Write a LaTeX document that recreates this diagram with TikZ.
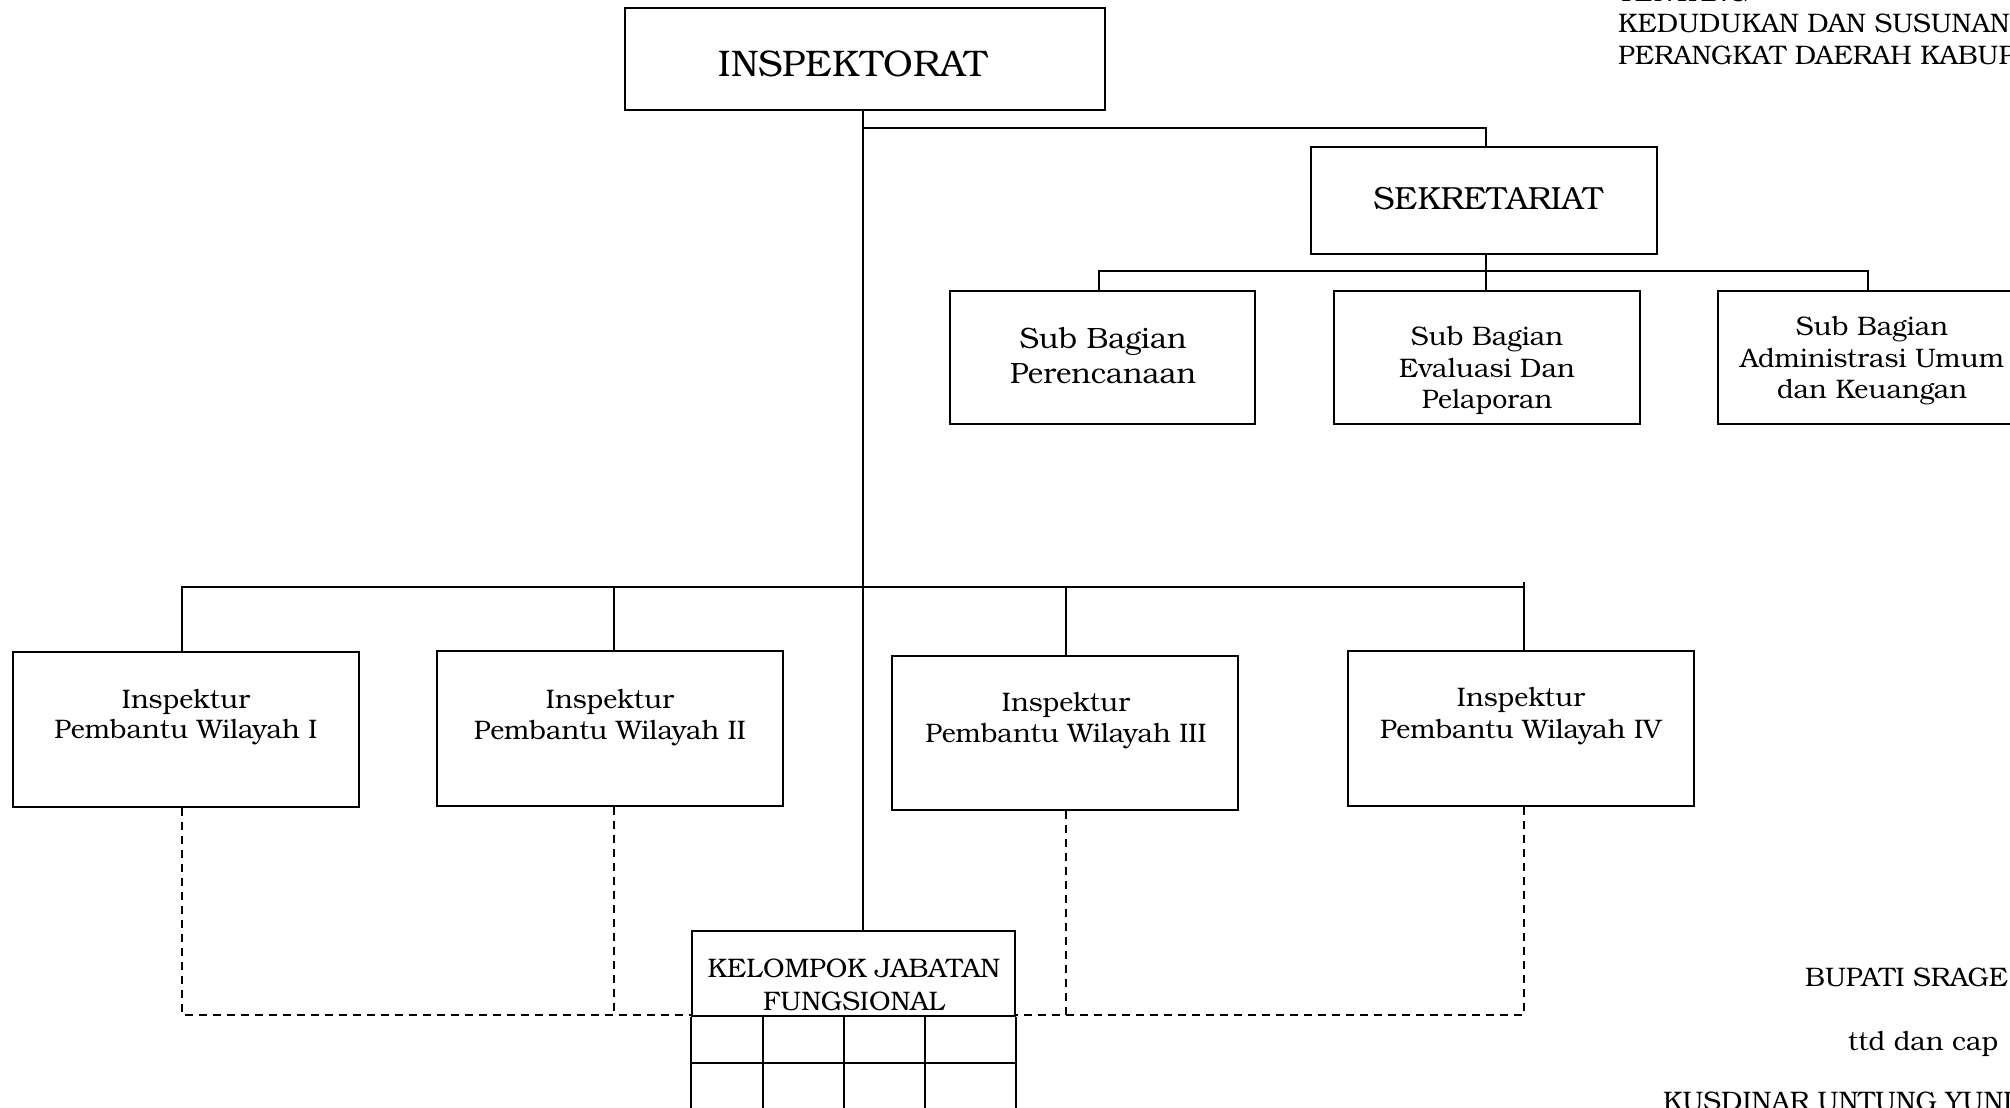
\documentclass[tikz,border=0pt]{standalone}
\usepackage{fontspec}
\setmainfont{TeX Gyre Bonum}
\usetikzlibrary{calc}
\newcommand\fsz[1]{\fontsize{#1}{#1}\selectfont}
\begin{document}
\begin{tikzpicture}[x=1pt,y=-1pt,
  box/.style={draw, line width=1.6pt, inner sep=0pt},
  conn/.style={line width=1.6pt},
  dashline/.style={line width=1.4pt, dash pattern=on 8pt off 6pt},
  txt/.style={inner sep=0pt, anchor=base},
  txtw/.style={inner sep=0pt, anchor=base west},
  big/.style={font=\fsz{37}},
  mid/.style={font=\fsz{32}},
  norm/.style={font=\fsz{26.8}},
  normp/.style={font=\fsz{29.4}}]
\useasboundingbox (0,0) rectangle (2010,1108);

% boxes
\node[box, minimum width=480pt, minimum height=102pt] (insp) at (865,59) {};
\node[box, minimum width=346pt, minimum height=107pt] (sek) at (1484,200.5) {};
\node[box, minimum width=305pt, minimum height=133pt] (perenc) at (1102.5,357.5) {};
\node[box, minimum width=306pt, minimum height=133pt] (eval) at (1487,357.5) {};
\node[box, minimum width=306pt, minimum height=133pt] (admin) at (1871,357.5) {};
\node[box, minimum width=346pt, minimum height=155pt] (i1) at (186,729.5) {};
\node[box, minimum width=346pt, minimum height=155pt] (i2) at (610,728.5) {};
\node[box, minimum width=346pt, minimum height=154pt] (i3) at (1065,733) {};
\node[box, minimum width=346pt, minimum height=155pt] (i4) at (1521,728.5) {};
\node[box, minimum width=323pt, minimum height=85pt] (kjf) at (853.5,973.5) {};

% box texts
\node[txt, big] (inspt) at (853,77) {INSPEKTORAT};
\node[txt, mid] (sekt) at (1488,209) {SEKRETARIAT};
\node[txt, normp] (perenca) at (1103,348) {Sub Bagian};
\node[txt, normp] (perencb) at (1103,383) {Perencanaan};
\node[txt, norm] (evala) at (1487,345) {Sub Bagian};
\node[txt, norm] (evalb) at (1487,377) {Evaluasi Dan};
\node[txt, norm] (evalc) at (1487,408) {Pelaporan};
\node[txt, norm] (admina) at (1872,335) {Sub Bagian};
\node[txt, norm] (adminb) at (1872,367) {Administrasi Umum};
\node[txt, norm] (adminc) at (1872,398) {dan Keuangan};
\node[txt, norm] (i1a) at (186,708) {Inspektur};
\node[txt, norm] (i1b) at (186,738) {Pembantu Wilayah I};
\node[txt, norm] (i2a) at (610,708) {Inspektur};
\node[txt, norm] (i2b) at (610,739) {Pembantu Wilayah II};
\node[txt, norm] (i3a) at (1066,711) {Inspektur};
\node[txt, norm] (i3b) at (1066,742) {Pembantu Wilayah III};
\node[txt, norm] (i4a) at (1521,706) {Inspektur};
\node[txt, norm] (i4b) at (1521,738) {Pembantu Wilayah IV};
\node[txt, norm] (kjfa) at (854,977) {KELOMPOK JABATAN};
\node[txt, norm] (kjfb) at (854,1010) {FUNGSIONAL};

% heading and signature block
\node[txtw, norm] (hd0) at (1618,2) {TENTANG};
\node[txtw, norm] (hd1) at (1618,33) {KEDUDUKAN DAN SUSUNAN};
\node[txtw, norm] (hd2) at (1618,64) {PERANGKAT DAERAH KABUP};
\node[txtw, norm] (bup) at (1805,986) {BUPATI SRAGE};
\node[txtw, norm] (ttd) at (1848,1050) {ttd dan cap};
\node[txtw, norm] (kus) at (1663,1110) {KUSDINAR UNTUNG YUNI};

% solid connectors
\draw[conn] ([xshift=-2pt]insp.south) -- ([xshift=9.5pt]kjf.north);
\draw[conn] ($(insp.south)+(-2,17)$) -| ([xshift=2pt]sek.north);
\draw[conn] ([xshift=2pt]sek.south) -- ([xshift=2pt]sek.south |- eval.north);
\draw[conn] ([xshift=-3.5pt]perenc.north) -- ++(0,-19) -| ([xshift=-3pt]admin.north);
\draw[conn] ([xshift=-4pt]i1.north) -- ++(0,-64) coordinate (busl) -| ([xshift=3pt]i4.north);
\draw[conn] ([xshift=3pt]i4.north |- busl) -- ++(0,-5);
\draw[conn] ([xshift=4pt]i2.north) -- ([xshift=4pt]i2.north |- busl);
\draw[conn] ([xshift=1pt]i3.north) -- ([xshift=1pt]i3.north |- busl);

% dashed links to the functional group
\coordinate (dl) at ($(kjf.south west)+(0,-2)$);
\coordinate (dr) at ($(kjf.south east)+(0,-2)$);
\draw[dashline] ([xshift=-4pt]i1.south) |- (dl);
\draw[dashline] ([xshift=4pt]i2.south) -- ([xshift=4pt]i2.south |- dl);
\draw[dashline] ([xshift=3pt]i4.south) |- (dr);
\draw[dashline] ([xshift=1pt]i3.south) -- ([xshift=1pt]i3.south |- dr);

% table below the functional group
\draw[conn] (kjf.south west) -- ++(0,110);
\draw[conn] (kjf.south east) -- ++(0,110);
\draw[conn] ($(kjf.south west)+(0,46)$) -- ($(kjf.south east)+(0,46)$);
\draw[conn] ($(kjf.south west)+(72,0)$) -- ++(0,110);
\draw[conn] ($(kjf.south west)+(153,0)$) -- ++(0,110);
\draw[conn] ($(kjf.south west)+(234,0)$) -- ++(0,110);
\end{tikzpicture}
\end{document}
